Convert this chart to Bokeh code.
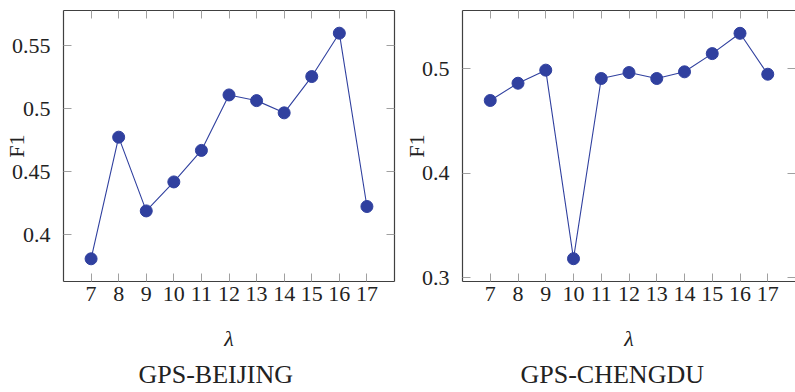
from bokeh.plotting import figure
from bokeh.layouts import row
from bokeh.models import LinearAxis, Title, Range1d, FixedTicker, ColumnDataSource
from bokeh.embed import file_html
from bokeh.resources import INLINE

# ---- data ----
lam = [7, 8, 9, 10, 11, 12, 13, 14, 15, 16, 17]
f1_beijing = [0.381, 0.4775, 0.419, 0.442, 0.467, 0.511, 0.5065, 0.4968, 0.5256, 0.560, 0.4225]
f1_chengdu = [0.4695, 0.486, 0.4985, 0.3183, 0.4905, 0.4962, 0.4905, 0.4969, 0.5143, 0.5337, 0.4946]
yticks_beijing = [0.4, 0.45, 0.5, 0.55]
ylabels_beijing = ["0.4", "0.45", "0.5", "0.55"]
yticks_chengdu = [0.3, 0.4, 0.5]
ylabels_chengdu = ["0.3", "0.4", "0.5"]
titles = ["GPS-BEIJING", "GPS-CHENGDU"]

FONT = "Liberation Serif"
FRAME = "#404040"
TICK = "#a0a0a0"
BLUE = "#30409f"
TXT = "#222222"


def style_axis(ax, ticks, labels=None, label_standoff=12):
    ax.ticker = FixedTicker(ticks=ticks)
    ax.major_tick_in = 8
    ax.major_tick_out = 0
    ax.minor_tick_line_color = None
    ax.major_tick_line_color = TICK
    ax.major_tick_line_width = 1
    ax.axis_line_color = FRAME
    ax.axis_line_width = 1.2
    ax.major_label_text_font = FONT
    ax.major_label_text_font_size = "22px"
    ax.major_label_text_color = TXT
    ax.major_label_standoff = label_standoff
    if labels is not None:
        ax.major_label_overrides = {t: l for t, l in zip(ticks, labels)}


def mirror_axis(ax, ticks, line=True):
    # tick marks only (drawn as minor ticks, so no labels)
    ax.ticker = FixedTicker(ticks=[], minor_ticks=ticks)
    ax.major_tick_line_color = None
    ax.minor_tick_in = 8
    ax.minor_tick_out = 0
    ax.minor_tick_line_color = TICK
    ax.minor_tick_line_width = 1
    ax.major_label_standoff = 0
    ax.axis_line_color = FRAME if line else None
    ax.axis_line_width = 1.2


def make_panel(y, yr, yticks, ylabels, title, width, mb_left, mb_right,
               f1_standoff, right_line, title_offset):
    src = ColumnDataSource(dict(x=lam, y=y))
    p = figure(width=width, height=392, output_backend="svg", toolbar_location=None,
               x_range=Range1d(6, 18), y_range=Range1d(*yr),
               min_border_left=mb_left, min_border_right=mb_right,
               min_border_top=10, min_border_bottom=110)
    p.outline_line_color = None
    p.grid.visible = False
    p.background_fill_color = "white"
    p.border_fill_color = "white"

    xa = p.below[0]
    style_axis(xa, lam, label_standoff=5)
    xa.axis_label = "λ"
    xa.axis_label_text_font = FONT
    xa.axis_label_text_font_style = "italic"
    xa.axis_label_text_font_size = "22px"
    xa.axis_label_text_color = TXT
    xa.axis_label_standoff = 22

    ya = p.left[0]
    style_axis(ya, yticks, ylabels, label_standoff=13)
    ya.axis_label = "F1"
    ya.axis_label_text_font = FONT
    ya.axis_label_text_font_style = "normal"
    ya.axis_label_text_font_size = "22px"
    ya.axis_label_text_color = TXT
    ya.axis_label_standoff = f1_standoff

    top = LinearAxis()
    mirror_axis(top, lam)
    p.add_layout(top, "above")
    right = LinearAxis()
    mirror_axis(right, yticks, line=right_line)
    p.add_layout(right, "right")

    t = Title(text=title, align="left", offset=title_offset, text_font=FONT,
              text_font_size="26px", text_font_style="normal", text_color=TXT,
              standoff=8)
    p.add_layout(t, "below")

    p.line("x", "y", source=src, line_color=BLUE, line_width=1.1)
    p.scatter("x", "y", source=src, marker="circle", size=12,
              fill_color=BLUE, line_color=BLUE)
    return p


p1 = make_panel(f1_beijing, (0.363, 0.578), yticks_beijing, ylabels_beijing, titles[0],
                width=400, mb_left=60, mb_right=6, f1_standoff=-20, right_line=True,
                title_offset=75)
p2 = make_panel(f1_chengdu, (0.2965, 0.5555), yticks_chengdu, ylabels_chengdu, titles[1],
                width=395, mb_left=62, mb_right=0, f1_standoff=-10, right_line=False,
                title_offset=58)

layout = row(p1, p2)
open("out.html", "w").write(file_html(layout, INLINE))
